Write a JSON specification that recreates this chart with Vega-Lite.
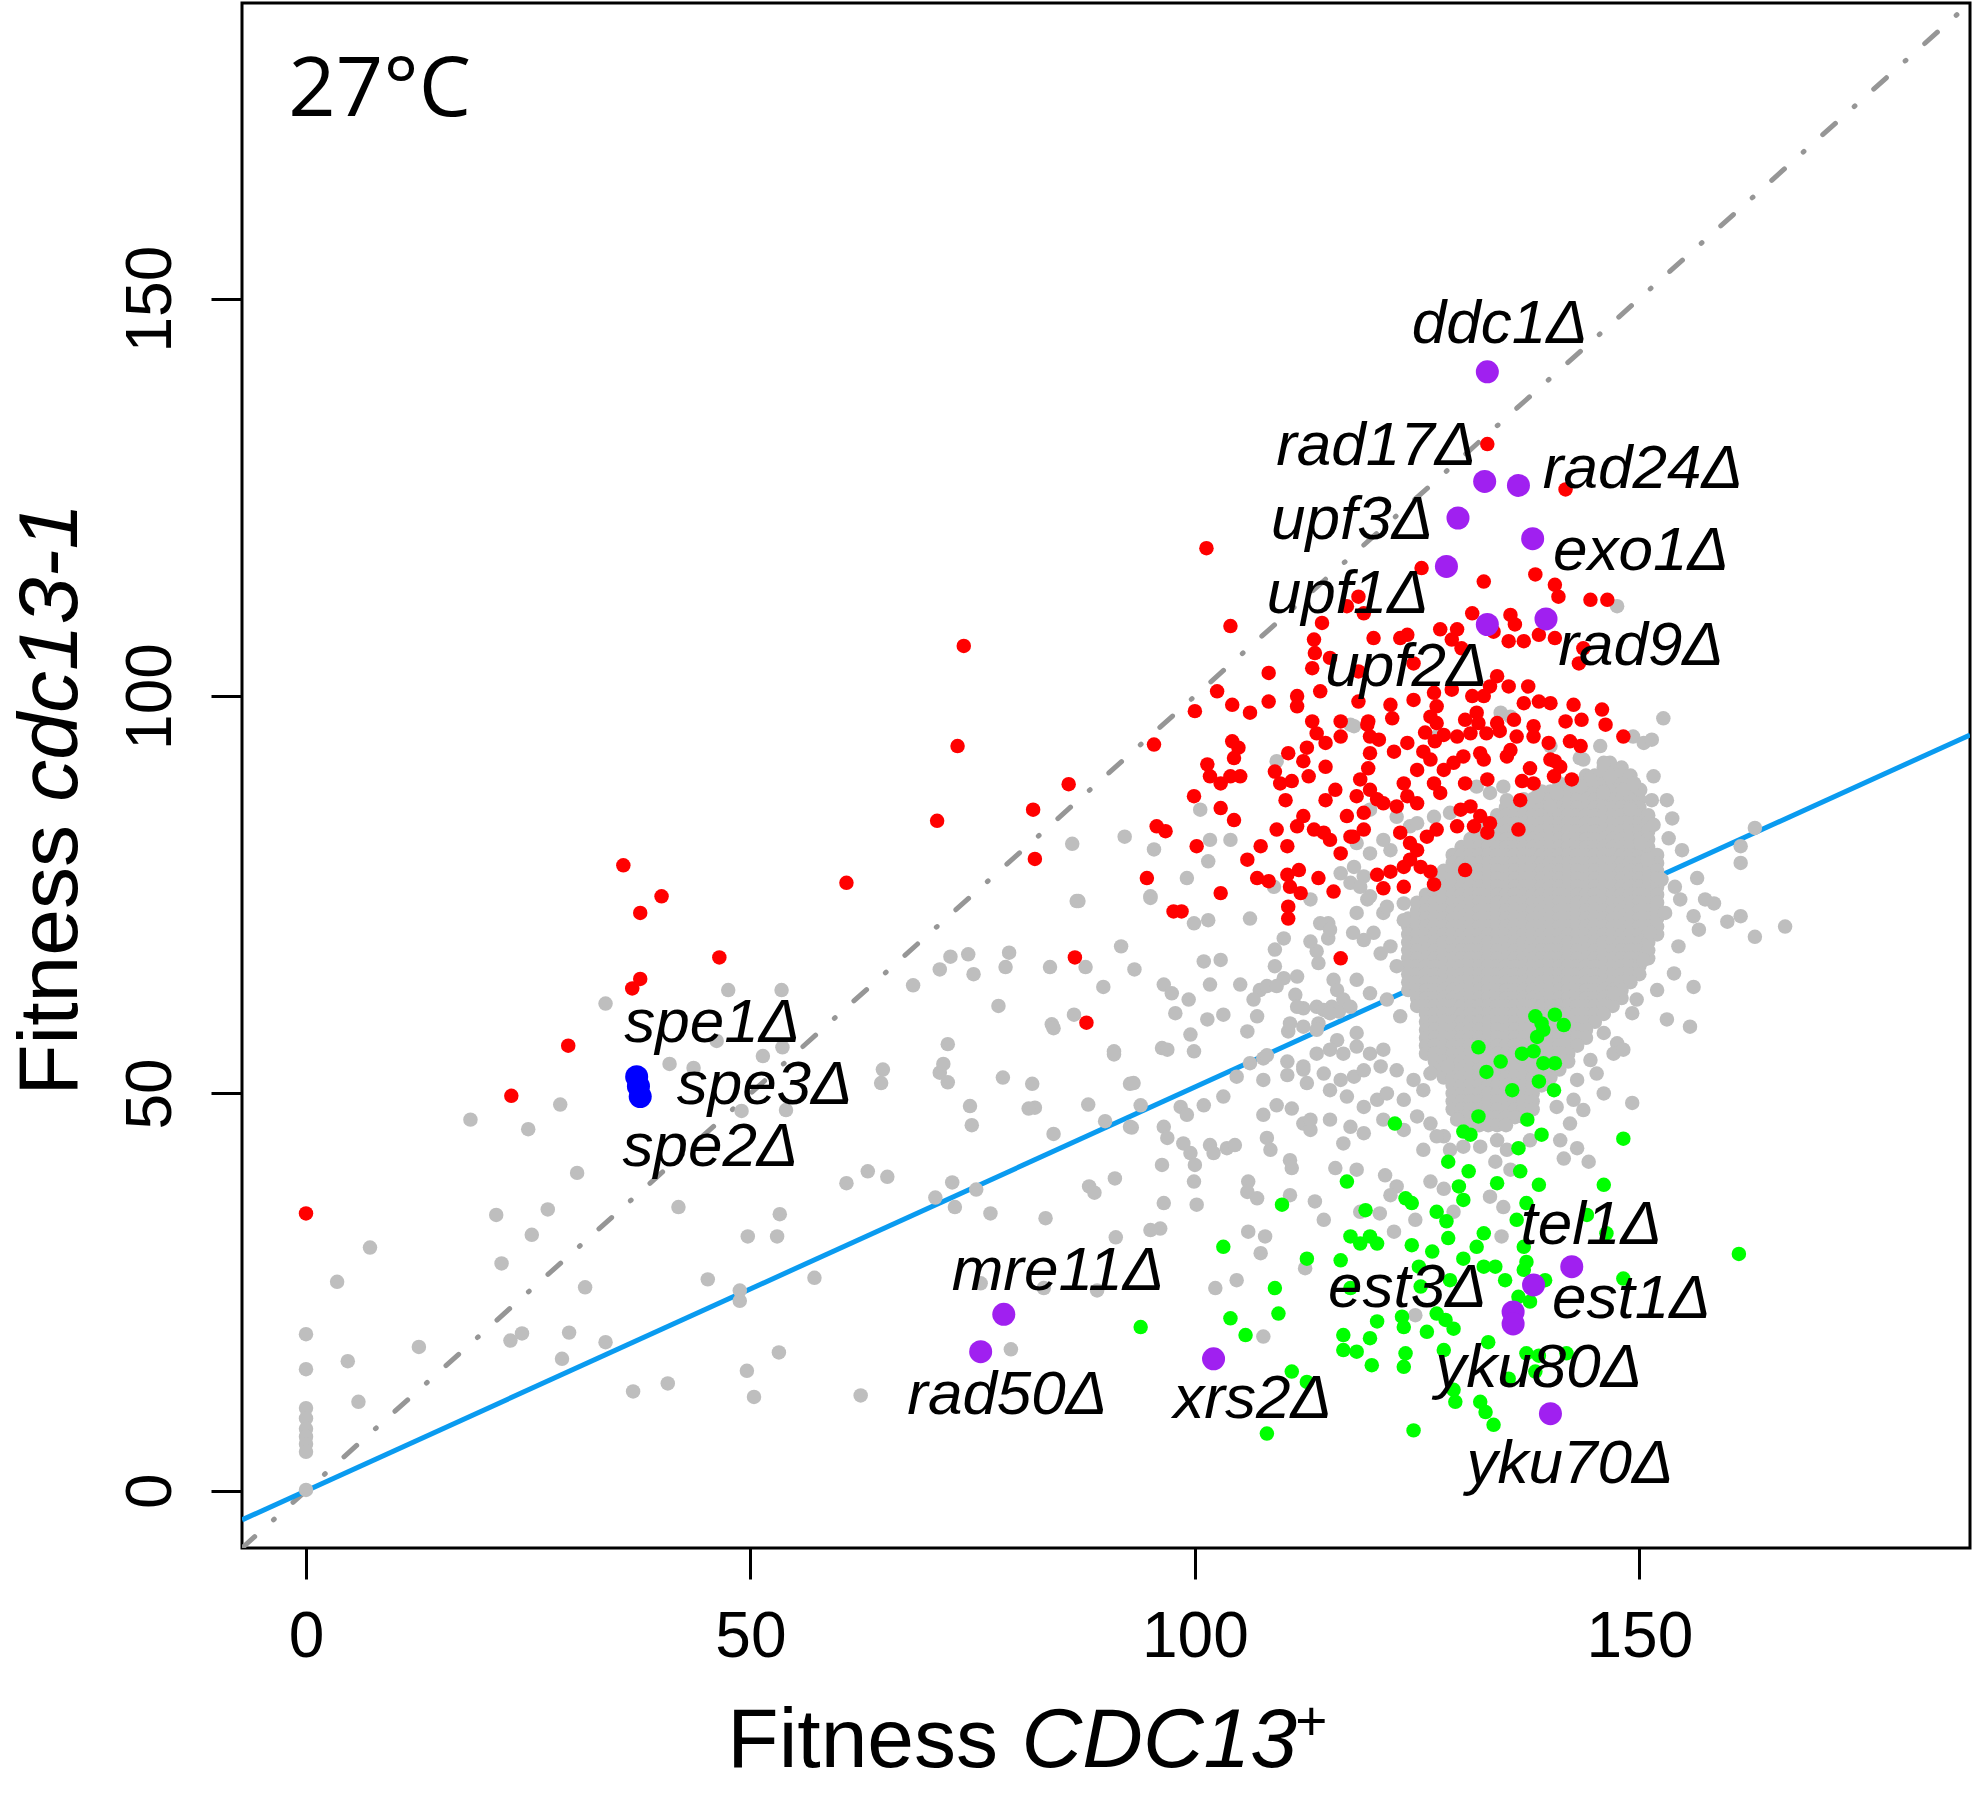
{
  "$schema": "https://vega.github.io/schema/vega-lite/v6.json",
  "autosize": {"type": "none"},
  "padding": {"left": 242, "top": 3, "right": 3, "bottom": 245},
  "width": 1728,
  "height": 1545,
  "config": {"view": {"stroke": "#000000", "strokeWidth": 3}},
  "datasets": {
    "diag": [{"x": -7.2, "y": -7.2}, {"x": 187.2, "y": 187.2}],
    "fit": [{"x": -7.2, "y": -3.66}, {"x": 187.2, "y": 95.1}],
    "grey": [
      {"x":146,"y":91},{"x":147,"y":91},{"x":148,"y":91},
      {"x":144,"y":90},{"x":145,"y":90},{"x":146,"y":90},{"x":147,"y":90},{"x":148,"y":90},{"x":149,"y":90},
      {"x":141,"y":89},{"x":142,"y":89},{"x":143,"y":89},{"x":144,"y":89},{"x":145,"y":89},{"x":146,"y":89},{"x":147,"y":89},{"x":148,"y":89},
      {"x":139,"y":88},{"x":140,"y":88},{"x":141,"y":88},{"x":142,"y":88},{"x":143,"y":88},{"x":144,"y":88},{"x":145,"y":88},{"x":146,"y":88},{"x":147,"y":88},{"x":148,"y":88},{"x":149,"y":88},
      {"x":137,"y":87},{"x":138,"y":87},{"x":139,"y":87},{"x":140,"y":87},{"x":141,"y":87},{"x":142,"y":87},{"x":143,"y":87},{"x":144,"y":87},{"x":145,"y":87},{"x":146,"y":87},{"x":147,"y":87},{"x":148,"y":87},{"x":149,"y":87},{"x":150,"y":87},
      {"x":135,"y":86},{"x":136,"y":86},{"x":137,"y":86},{"x":138,"y":86},{"x":139,"y":86},{"x":140,"y":86},{"x":141,"y":86},{"x":142,"y":86},{"x":143,"y":86},{"x":144,"y":86},{"x":145,"y":86},{"x":146,"y":86},{"x":147,"y":86},{"x":148,"y":86},{"x":149,"y":86},{"x":150,"y":86},
      {"x":134,"y":85},{"x":135,"y":85},{"x":136,"y":85},{"x":137,"y":85},{"x":138,"y":85},{"x":139,"y":85},{"x":140,"y":85},{"x":141,"y":85},{"x":142,"y":85},{"x":143,"y":85},{"x":144,"y":85},{"x":145,"y":85},{"x":146,"y":85},{"x":147,"y":85},{"x":148,"y":85},{"x":149,"y":85},{"x":150,"y":85},{"x":151,"y":85},
      {"x":133,"y":84},{"x":134,"y":84},{"x":135,"y":84},{"x":136,"y":84},{"x":137,"y":84},{"x":138,"y":84},{"x":139,"y":84},{"x":140,"y":84},{"x":141,"y":84},{"x":142,"y":84},{"x":143,"y":84},{"x":144,"y":84},{"x":145,"y":84},{"x":146,"y":84},{"x":147,"y":84},{"x":148,"y":84},{"x":149,"y":84},{"x":150,"y":84},{"x":151,"y":84},
      {"x":132,"y":83},{"x":133,"y":83},{"x":134,"y":83},{"x":135,"y":83},{"x":136,"y":83},{"x":137,"y":83},{"x":138,"y":83},{"x":139,"y":83},{"x":140,"y":83},{"x":141,"y":83},{"x":142,"y":83},{"x":143,"y":83},{"x":144,"y":83},{"x":145,"y":83},{"x":146,"y":83},{"x":147,"y":83},{"x":148,"y":83},{"x":149,"y":83},{"x":150,"y":83},{"x":151,"y":83},
      {"x":131,"y":82},{"x":132,"y":82},{"x":133,"y":82},{"x":134,"y":82},{"x":135,"y":82},{"x":136,"y":82},{"x":137,"y":82},{"x":138,"y":82},{"x":139,"y":82},{"x":140,"y":82},{"x":141,"y":82},{"x":142,"y":82},{"x":143,"y":82},{"x":144,"y":82},{"x":145,"y":82},{"x":146,"y":82},{"x":147,"y":82},{"x":148,"y":82},{"x":149,"y":82},{"x":150,"y":82},{"x":151,"y":82},
      {"x":130,"y":81},{"x":131,"y":81},{"x":132,"y":81},{"x":133,"y":81},{"x":134,"y":81},{"x":135,"y":81},{"x":136,"y":81},{"x":137,"y":81},{"x":138,"y":81},{"x":139,"y":81},{"x":140,"y":81},{"x":141,"y":81},{"x":142,"y":81},{"x":143,"y":81},{"x":144,"y":81},{"x":145,"y":81},{"x":146,"y":81},{"x":147,"y":81},{"x":148,"y":81},{"x":149,"y":81},{"x":150,"y":81},{"x":151,"y":81},
      {"x":129,"y":80},{"x":130,"y":80},{"x":131,"y":80},{"x":132,"y":80},{"x":133,"y":80},{"x":134,"y":80},{"x":135,"y":80},{"x":136,"y":80},{"x":137,"y":80},{"x":138,"y":80},{"x":139,"y":80},{"x":140,"y":80},{"x":141,"y":80},{"x":142,"y":80},{"x":143,"y":80},{"x":144,"y":80},{"x":145,"y":80},{"x":146,"y":80},{"x":147,"y":80},{"x":148,"y":80},{"x":149,"y":80},{"x":150,"y":80},{"x":151,"y":80},{"x":152,"y":80},
      {"x":129,"y":79},{"x":130,"y":79},{"x":131,"y":79},{"x":132,"y":79},{"x":133,"y":79},{"x":134,"y":79},{"x":135,"y":79},{"x":136,"y":79},{"x":137,"y":79},{"x":138,"y":79},{"x":139,"y":79},{"x":140,"y":79},{"x":141,"y":79},{"x":142,"y":79},{"x":143,"y":79},{"x":144,"y":79},{"x":145,"y":79},{"x":146,"y":79},{"x":147,"y":79},{"x":148,"y":79},{"x":149,"y":79},{"x":150,"y":79},{"x":151,"y":79},{"x":152,"y":79},
      {"x":128,"y":78},{"x":129,"y":78},{"x":130,"y":78},{"x":131,"y":78},{"x":132,"y":78},{"x":133,"y":78},{"x":134,"y":78},{"x":135,"y":78},{"x":136,"y":78},{"x":137,"y":78},{"x":138,"y":78},{"x":139,"y":78},{"x":140,"y":78},{"x":141,"y":78},{"x":142,"y":78},{"x":143,"y":78},{"x":144,"y":78},{"x":145,"y":78},{"x":146,"y":78},{"x":147,"y":78},{"x":148,"y":78},{"x":149,"y":78},{"x":150,"y":78},{"x":151,"y":78},{"x":152,"y":78},
      {"x":127,"y":77},{"x":128,"y":77},{"x":129,"y":77},{"x":130,"y":77},{"x":131,"y":77},{"x":132,"y":77},{"x":133,"y":77},{"x":134,"y":77},{"x":135,"y":77},{"x":136,"y":77},{"x":137,"y":77},{"x":138,"y":77},{"x":139,"y":77},{"x":140,"y":77},{"x":141,"y":77},{"x":142,"y":77},{"x":143,"y":77},{"x":144,"y":77},{"x":145,"y":77},{"x":146,"y":77},{"x":147,"y":77},{"x":148,"y":77},{"x":149,"y":77},{"x":150,"y":77},{"x":151,"y":77},{"x":152,"y":77},
      {"x":127,"y":76},{"x":128,"y":76},{"x":129,"y":76},{"x":130,"y":76},{"x":131,"y":76},{"x":132,"y":76},{"x":133,"y":76},{"x":134,"y":76},{"x":135,"y":76},{"x":136,"y":76},{"x":137,"y":76},{"x":138,"y":76},{"x":139,"y":76},{"x":140,"y":76},{"x":141,"y":76},{"x":142,"y":76},{"x":143,"y":76},{"x":144,"y":76},{"x":145,"y":76},{"x":146,"y":76},{"x":147,"y":76},{"x":148,"y":76},{"x":149,"y":76},{"x":150,"y":76},{"x":151,"y":76},{"x":152,"y":76},
      {"x":126,"y":75},{"x":127,"y":75},{"x":128,"y":75},{"x":129,"y":75},{"x":130,"y":75},{"x":131,"y":75},{"x":132,"y":75},{"x":133,"y":75},{"x":134,"y":75},{"x":135,"y":75},{"x":136,"y":75},{"x":137,"y":75},{"x":138,"y":75},{"x":139,"y":75},{"x":140,"y":75},{"x":141,"y":75},{"x":142,"y":75},{"x":143,"y":75},{"x":144,"y":75},{"x":145,"y":75},{"x":146,"y":75},{"x":147,"y":75},{"x":148,"y":75},{"x":149,"y":75},{"x":150,"y":75},{"x":151,"y":75},{"x":152,"y":75},
      {"x":125,"y":74},{"x":126,"y":74},{"x":127,"y":74},{"x":128,"y":74},{"x":129,"y":74},{"x":130,"y":74},{"x":131,"y":74},{"x":132,"y":74},{"x":133,"y":74},{"x":134,"y":74},{"x":135,"y":74},{"x":136,"y":74},{"x":137,"y":74},{"x":138,"y":74},{"x":139,"y":74},{"x":140,"y":74},{"x":141,"y":74},{"x":142,"y":74},{"x":143,"y":74},{"x":144,"y":74},{"x":145,"y":74},{"x":146,"y":74},{"x":147,"y":74},{"x":148,"y":74},{"x":149,"y":74},{"x":150,"y":74},{"x":151,"y":74},{"x":152,"y":74},
      {"x":125,"y":73},{"x":126,"y":73},{"x":127,"y":73},{"x":128,"y":73},{"x":129,"y":73},{"x":130,"y":73},{"x":131,"y":73},{"x":132,"y":73},{"x":133,"y":73},{"x":134,"y":73},{"x":135,"y":73},{"x":136,"y":73},{"x":137,"y":73},{"x":138,"y":73},{"x":139,"y":73},{"x":140,"y":73},{"x":141,"y":73},{"x":142,"y":73},{"x":143,"y":73},{"x":144,"y":73},{"x":145,"y":73},{"x":146,"y":73},{"x":147,"y":73},{"x":148,"y":73},{"x":149,"y":73},{"x":150,"y":73},{"x":151,"y":73},{"x":152,"y":73},
      {"x":124,"y":72},{"x":125,"y":72},{"x":126,"y":72},{"x":127,"y":72},{"x":128,"y":72},{"x":129,"y":72},{"x":130,"y":72},{"x":131,"y":72},{"x":132,"y":72},{"x":133,"y":72},{"x":134,"y":72},{"x":135,"y":72},{"x":136,"y":72},{"x":137,"y":72},{"x":138,"y":72},{"x":139,"y":72},{"x":140,"y":72},{"x":141,"y":72},{"x":142,"y":72},{"x":143,"y":72},{"x":144,"y":72},{"x":145,"y":72},{"x":146,"y":72},{"x":147,"y":72},{"x":148,"y":72},{"x":149,"y":72},{"x":150,"y":72},{"x":151,"y":72},{"x":152,"y":72},
      {"x":124,"y":71},{"x":125,"y":71},{"x":126,"y":71},{"x":127,"y":71},{"x":128,"y":71},{"x":129,"y":71},{"x":130,"y":71},{"x":131,"y":71},{"x":132,"y":71},{"x":133,"y":71},{"x":134,"y":71},{"x":135,"y":71},{"x":136,"y":71},{"x":137,"y":71},{"x":138,"y":71},{"x":139,"y":71},{"x":140,"y":71},{"x":141,"y":71},{"x":142,"y":71},{"x":143,"y":71},{"x":144,"y":71},{"x":145,"y":71},{"x":146,"y":71},{"x":147,"y":71},{"x":148,"y":71},{"x":149,"y":71},{"x":150,"y":71},{"x":151,"y":71},{"x":152,"y":71},
      {"x":124,"y":70},{"x":125,"y":70},{"x":126,"y":70},{"x":127,"y":70},{"x":128,"y":70},{"x":129,"y":70},{"x":130,"y":70},{"x":131,"y":70},{"x":132,"y":70},{"x":133,"y":70},{"x":134,"y":70},{"x":135,"y":70},{"x":136,"y":70},{"x":137,"y":70},{"x":138,"y":70},{"x":139,"y":70},{"x":140,"y":70},{"x":141,"y":70},{"x":142,"y":70},{"x":143,"y":70},{"x":144,"y":70},{"x":145,"y":70},{"x":146,"y":70},{"x":147,"y":70},{"x":148,"y":70},{"x":149,"y":70},{"x":150,"y":70},{"x":151,"y":70},{"x":152,"y":70},
      {"x":124,"y":69},{"x":125,"y":69},{"x":126,"y":69},{"x":127,"y":69},{"x":128,"y":69},{"x":129,"y":69},{"x":130,"y":69},{"x":131,"y":69},{"x":132,"y":69},{"x":133,"y":69},{"x":134,"y":69},{"x":135,"y":69},{"x":136,"y":69},{"x":137,"y":69},{"x":138,"y":69},{"x":139,"y":69},{"x":140,"y":69},{"x":141,"y":69},{"x":142,"y":69},{"x":143,"y":69},{"x":144,"y":69},{"x":145,"y":69},{"x":146,"y":69},{"x":147,"y":69},{"x":148,"y":69},{"x":149,"y":69},{"x":150,"y":69},{"x":151,"y":69},
      {"x":124,"y":68},{"x":125,"y":68},{"x":126,"y":68},{"x":127,"y":68},{"x":128,"y":68},{"x":129,"y":68},{"x":130,"y":68},{"x":131,"y":68},{"x":132,"y":68},{"x":133,"y":68},{"x":134,"y":68},{"x":135,"y":68},{"x":136,"y":68},{"x":137,"y":68},{"x":138,"y":68},{"x":139,"y":68},{"x":140,"y":68},{"x":141,"y":68},{"x":142,"y":68},{"x":143,"y":68},{"x":144,"y":68},{"x":145,"y":68},{"x":146,"y":68},{"x":147,"y":68},{"x":148,"y":68},{"x":149,"y":68},{"x":150,"y":68},{"x":151,"y":68},
      {"x":124,"y":67},{"x":125,"y":67},{"x":126,"y":67},{"x":127,"y":67},{"x":128,"y":67},{"x":129,"y":67},{"x":130,"y":67},{"x":131,"y":67},{"x":132,"y":67},{"x":133,"y":67},{"x":134,"y":67},{"x":135,"y":67},{"x":136,"y":67},{"x":137,"y":67},{"x":138,"y":67},{"x":139,"y":67},{"x":140,"y":67},{"x":141,"y":67},{"x":142,"y":67},{"x":143,"y":67},{"x":144,"y":67},{"x":145,"y":67},{"x":146,"y":67},{"x":147,"y":67},{"x":148,"y":67},{"x":149,"y":67},{"x":150,"y":67},{"x":151,"y":67},
      {"x":124,"y":66},{"x":125,"y":66},{"x":126,"y":66},{"x":127,"y":66},{"x":128,"y":66},{"x":129,"y":66},{"x":130,"y":66},{"x":131,"y":66},{"x":132,"y":66},{"x":133,"y":66},{"x":134,"y":66},{"x":135,"y":66},{"x":136,"y":66},{"x":137,"y":66},{"x":138,"y":66},{"x":139,"y":66},{"x":140,"y":66},{"x":141,"y":66},{"x":142,"y":66},{"x":143,"y":66},{"x":144,"y":66},{"x":145,"y":66},{"x":146,"y":66},{"x":147,"y":66},{"x":148,"y":66},{"x":149,"y":66},{"x":150,"y":66},
      {"x":124,"y":65},{"x":125,"y":65},{"x":126,"y":65},{"x":127,"y":65},{"x":128,"y":65},{"x":129,"y":65},{"x":130,"y":65},{"x":131,"y":65},{"x":132,"y":65},{"x":133,"y":65},{"x":134,"y":65},{"x":135,"y":65},{"x":136,"y":65},{"x":137,"y":65},{"x":138,"y":65},{"x":139,"y":65},{"x":140,"y":65},{"x":141,"y":65},{"x":142,"y":65},{"x":143,"y":65},{"x":144,"y":65},{"x":145,"y":65},{"x":146,"y":65},{"x":147,"y":65},{"x":148,"y":65},{"x":149,"y":65},{"x":150,"y":65},
      {"x":124,"y":64},{"x":125,"y":64},{"x":126,"y":64},{"x":127,"y":64},{"x":128,"y":64},{"x":129,"y":64},{"x":130,"y":64},{"x":131,"y":64},{"x":132,"y":64},{"x":133,"y":64},{"x":134,"y":64},{"x":135,"y":64},{"x":136,"y":64},{"x":137,"y":64},{"x":138,"y":64},{"x":139,"y":64},{"x":140,"y":64},{"x":141,"y":64},{"x":142,"y":64},{"x":143,"y":64},{"x":144,"y":64},{"x":145,"y":64},{"x":146,"y":64},{"x":147,"y":64},{"x":148,"y":64},{"x":149,"y":64},
      {"x":124,"y":63},{"x":125,"y":63},{"x":126,"y":63},{"x":127,"y":63},{"x":128,"y":63},{"x":129,"y":63},{"x":130,"y":63},{"x":131,"y":63},{"x":132,"y":63},{"x":133,"y":63},{"x":134,"y":63},{"x":135,"y":63},{"x":136,"y":63},{"x":137,"y":63},{"x":138,"y":63},{"x":139,"y":63},{"x":140,"y":63},{"x":141,"y":63},{"x":142,"y":63},{"x":143,"y":63},{"x":144,"y":63},{"x":145,"y":63},{"x":146,"y":63},{"x":147,"y":63},{"x":148,"y":63},
      {"x":125,"y":62},{"x":126,"y":62},{"x":127,"y":62},{"x":128,"y":62},{"x":129,"y":62},{"x":130,"y":62},{"x":131,"y":62},{"x":132,"y":62},{"x":133,"y":62},{"x":134,"y":62},{"x":135,"y":62},{"x":136,"y":62},{"x":137,"y":62},{"x":138,"y":62},{"x":139,"y":62},{"x":140,"y":62},{"x":141,"y":62},{"x":142,"y":62},{"x":143,"y":62},{"x":144,"y":62},{"x":145,"y":62},{"x":146,"y":62},{"x":147,"y":62},{"x":148,"y":62},
      {"x":125,"y":61},{"x":126,"y":61},{"x":127,"y":61},{"x":128,"y":61},{"x":129,"y":61},{"x":130,"y":61},{"x":131,"y":61},{"x":132,"y":61},{"x":133,"y":61},{"x":134,"y":61},{"x":135,"y":61},{"x":136,"y":61},{"x":137,"y":61},{"x":138,"y":61},{"x":139,"y":61},{"x":140,"y":61},{"x":141,"y":61},{"x":142,"y":61},{"x":143,"y":61},{"x":144,"y":61},{"x":145,"y":61},{"x":146,"y":61},{"x":147,"y":61},
      {"x":126,"y":60},{"x":127,"y":60},{"x":128,"y":60},{"x":129,"y":60},{"x":130,"y":60},{"x":131,"y":60},{"x":132,"y":60},{"x":133,"y":60},{"x":134,"y":60},{"x":135,"y":60},{"x":136,"y":60},{"x":137,"y":60},{"x":138,"y":60},{"x":139,"y":60},{"x":140,"y":60},{"x":141,"y":60},{"x":142,"y":60},{"x":143,"y":60},{"x":144,"y":60},{"x":145,"y":60},{"x":146,"y":60},
      {"x":126,"y":59},{"x":127,"y":59},{"x":128,"y":59},{"x":129,"y":59},{"x":130,"y":59},{"x":131,"y":59},{"x":132,"y":59},{"x":133,"y":59},{"x":134,"y":59},{"x":135,"y":59},{"x":136,"y":59},{"x":137,"y":59},{"x":138,"y":59},{"x":139,"y":59},{"x":140,"y":59},{"x":141,"y":59},{"x":142,"y":59},{"x":143,"y":59},{"x":144,"y":59},{"x":145,"y":59},
      {"x":126,"y":58},{"x":127,"y":58},{"x":128,"y":58},{"x":129,"y":58},{"x":130,"y":58},{"x":131,"y":58},{"x":132,"y":58},{"x":133,"y":58},{"x":134,"y":58},{"x":135,"y":58},{"x":136,"y":58},{"x":137,"y":58},{"x":138,"y":58},{"x":139,"y":58},{"x":140,"y":58},{"x":141,"y":58},{"x":142,"y":58},{"x":143,"y":58},{"x":144,"y":58},
      {"x":126,"y":57},{"x":127,"y":57},{"x":128,"y":57},{"x":129,"y":57},{"x":130,"y":57},{"x":131,"y":57},{"x":132,"y":57},{"x":133,"y":57},{"x":134,"y":57},{"x":135,"y":57},{"x":136,"y":57},{"x":137,"y":57},{"x":138,"y":57},{"x":139,"y":57},{"x":140,"y":57},{"x":141,"y":57},{"x":142,"y":57},{"x":143,"y":57},{"x":144,"y":57},
      {"x":126,"y":56},{"x":127,"y":56},{"x":128,"y":56},{"x":129,"y":56},{"x":130,"y":56},{"x":131,"y":56},{"x":132,"y":56},{"x":133,"y":56},{"x":134,"y":56},{"x":135,"y":56},{"x":136,"y":56},{"x":137,"y":56},{"x":138,"y":56},{"x":139,"y":56},{"x":140,"y":56},{"x":141,"y":56},{"x":142,"y":56},{"x":143,"y":56},
      {"x":126,"y":55},{"x":127,"y":55},{"x":128,"y":55},{"x":129,"y":55},{"x":130,"y":55},{"x":131,"y":55},{"x":132,"y":55},{"x":133,"y":55},{"x":134,"y":55},{"x":135,"y":55},{"x":136,"y":55},{"x":137,"y":55},{"x":138,"y":55},{"x":139,"y":55},{"x":140,"y":55},{"x":141,"y":55},{"x":142,"y":55},
      {"x":127,"y":54},{"x":128,"y":54},{"x":129,"y":54},{"x":130,"y":54},{"x":131,"y":54},{"x":132,"y":54},{"x":133,"y":54},{"x":134,"y":54},{"x":135,"y":54},{"x":136,"y":54},{"x":137,"y":54},{"x":138,"y":54},{"x":139,"y":54},{"x":140,"y":54},{"x":141,"y":54},{"x":142,"y":54},
      {"x":127,"y":53},{"x":128,"y":53},{"x":129,"y":53},{"x":130,"y":53},{"x":131,"y":53},{"x":132,"y":53},{"x":133,"y":53},{"x":134,"y":53},{"x":135,"y":53},{"x":136,"y":53},{"x":137,"y":53},{"x":138,"y":53},{"x":139,"y":53},{"x":140,"y":53},{"x":141,"y":53},
      {"x":128,"y":52},{"x":129,"y":52},{"x":130,"y":52},{"x":131,"y":52},{"x":132,"y":52},{"x":133,"y":52},{"x":134,"y":52},{"x":135,"y":52},{"x":136,"y":52},{"x":137,"y":52},{"x":138,"y":52},{"x":139,"y":52},{"x":140,"y":52},
      {"x":129,"y":51},{"x":130,"y":51},{"x":131,"y":51},{"x":132,"y":51},{"x":133,"y":51},{"x":134,"y":51},{"x":135,"y":51},{"x":136,"y":51},{"x":137,"y":51},{"x":138,"y":51},{"x":139,"y":51},
      {"x":129,"y":50},{"x":130,"y":50},{"x":131,"y":50},{"x":132,"y":50},{"x":133,"y":50},{"x":134,"y":50},{"x":135,"y":50},{"x":136,"y":50},{"x":137,"y":50},{"x":138,"y":50},
      {"x":129,"y":49},{"x":130,"y":49},{"x":131,"y":49},{"x":132,"y":49},{"x":133,"y":49},{"x":134,"y":49},{"x":135,"y":49},{"x":136,"y":49},{"x":137,"y":49},{"x":138,"y":49},
      {"x":129,"y":48},{"x":130,"y":48},{"x":131,"y":48},{"x":132,"y":48},{"x":133,"y":48},{"x":134,"y":48},{"x":135,"y":48},{"x":136,"y":48},{"x":137,"y":48},{"x":138,"y":48},
      {"x":130,"y":47},{"x":131,"y":47},{"x":132,"y":47},{"x":133,"y":47},{"x":134,"y":47},{"x":135,"y":47},{"x":136,"y":47},{"x":137,"y":47},
      {"x":131,"y":46},{"x":132,"y":46},{"x":133,"y":46},{"x":134,"y":46},{"x":135,"y":46},
      {"x":0,"y":19.7},{"x":0,"y":15.3},{"x":0,"y":10.4},{"x":0,"y":9.1},{"x":0,"y":7.8},{"x":0,"y":6.8},{"x":0,"y":5.9},{"x":0,"y":4.9},{"x":0,"y":0.1},
      {"x":7.2,"y":30.6},{"x":3.5,"y":26.3},{"x":4.7,"y":16.3},{"x":5.9,"y":11.2},{"x":12.7,"y":18.1},{"x":18.5,"y":46.7},{"x":21.4,"y":34.7},{"x":22,"y":28.6},{"x":24.3,"y":19.8},{"x":23,"y":18.9},{"x":25,"y":45.5},{"x":25.4,"y":32.2},{"x":27.2,"y":35.4},{"x":28.6,"y":48.6},{"x":29.6,"y":19.9},{"x":30.5,"y":40},{"x":31.4,"y":25.6},{"x":28.8,"y":16.6},{"x":33.7,"y":18.7},{"x":33.7,"y":61.3},{"x":36.8,"y":12.5},{"x":40.7,"y":13.5},{"x":41.9,"y":35.7},{"x":45.2,"y":26.6},{"x":47.5,"y":63},{"x":40.9,"y":53.7},{"x":43.6,"y":53.2},{"x":48.8,"y":23.9},{"x":48.8,"y":25.2},{"x":49.7,"y":32},{"x":49.6,"y":15.1},{"x":50.4,"y":11.8},{"x":53,"y":32},{"x":53.3,"y":34.8},{"x":53.5,"y":63},{"x":53.6,"y":55.8},{"x":51.4,"y":54.7},{"x":54,"y":47.9},{"x":53.2,"y":17.4},{"x":57.2,"y":26.8},{"x":60.8,"y":38.7},{"x":63.2,"y":40.2},{"x":65.4,"y":39.5},{"x":62.4,"y":12},{"x":64.7,"y":51.3},{"x":64.9,"y":53},{"x":68.3,"y":63.6},{"x":71.3,"y":65.6},{"x":72.5,"y":67.2},{"x":74.5,"y":67.5},{"x":75.1,"y":65},{"x":71.3,"y":52.6},{"x":71.7,"y":53.7},{"x":72.2,"y":51.4},{"x":72.2,"y":56.2},{"x":72.7,"y":38.8},{"x":70.8,"y":36.9},{"x":73,"y":35.7},{"x":75.4,"y":37.9},{"x":77,"y":34.9},{"x":74.7,"y":48.4},{"x":74.9,"y":46},{"x":78.4,"y":52},{"x":79.1,"y":67.7},{"x":78.7,"y":65.9},{"x":77.9,"y":61},{"x":79.3,"y":17.8},{"x":81.7,"y":51.2},{"x":82,"y":48.2},{"x":81.3,"y":48.1},{"x":84.1,"y":44.9},{"x":83.2,"y":34.3},{"x":83.7,"y":65.9},{"x":83.9,"y":58.7},{"x":84.1,"y":58.2},{"x":86.4,"y":59.9},{"x":86.2,"y":81.4},{"x":86.9,"y":74.2},{"x":86.7,"y":74.2},{"x":87.7,"y":65.9},{"x":88.1,"y":38.3},{"x":88.7,"y":37.5},{"x":88,"y":48.6},{"x":89.7,"y":63.4},{"x":89.9,"y":46.5},{"x":91,"y":39.3},{"x":90.9,"y":55.3},{"x":90.9,"y":54.9},{"x":91.7,"y":68.5},{"x":92.1,"y":82.3},{"x":92.7,"y":51.2},{"x":92.9,"y":45.7},{"x":93.2,"y":65.6},{"x":91.1,"y":31.9},{"x":89,"y":25.2},{"x":83,"y":25.5},{"x":75.9,"y":26.1},{"x":46.2,"y":56.6},{"x":49,"y":47.8},{"x":95,"y":74.6},
      {"x":109,"y":68.1},{"x":109,"y":66},{"x":110,"y":64.5},{"x":107.3,"y":63},{"x":106.6,"y":61.8},{"x":108.1,"y":63.5},{"x":109.2,"y":63.5},{"x":111.3,"y":62.4},{"x":112.2,"y":60.7},{"x":113.7,"y":60.9},{"x":115.4,"y":60.9},{"x":116.2,"y":60.3},{"x":113.9,"y":58.8},{"x":110.5,"y":57.8},{"x":107,"y":59.7},{"x":105.9,"y":57.8},{"x":113.7,"y":67.9},{"x":113,"y":69.1},{"x":115,"y":71.4},{"x":115,"y":69.5},{"x":113.9,"y":66.4},{"x":110,"y":69.5},{"x":115.6,"y":64.3},{"x":116,"y":63},{"x":116.7,"y":61.8},{"x":117.5,"y":60.9},{"x":111.5,"y":60.9},{"x":114.5,"y":60.5},{"x":115.2,"y":60.1},{"x":110.7,"y":58.8},{"x":112.2,"y":58.4},{"x":113.7,"y":58},{"x":116,"y":56.7},{"x":111.5,"y":64.7},{"x":96.5,"y":63.7},{"x":97.4,"y":62.6},{"x":101.7,"y":63.7},{"x":105.1,"y":63.7},{"x":101,"y":66.6},{"x":102.9,"y":66.8},{"x":99.3,"y":61.8},{"x":97.8,"y":60.1},{"x":101.4,"y":59.3},{"x":103.2,"y":59.9},{"x":99.5,"y":57.4},
      {"x":109.2,"y":91.8},{"x":117.5,"y":96.4},{"x":100.6,"y":85.7},{"x":101.7,"y":81.9},{"x":104,"y":81.9},{"x":101.5,"y":79.2},{"x":99.1,"y":77.1},{"x":95.4,"y":80.7},{"x":95,"y":74.8},{"x":99.9,"y":71.4},{"x":101.5,"y":71.8},{"x":106.2,"y":72},{"x":108.9,"y":76},{"x":113,"y":74.4},{"x":114.1,"y":71.4},{"x":115.2,"y":70.6},{"x":116.4,"y":77.7},{"x":117.5,"y":76.5},{"x":119,"y":77.3},{"x":119.4,"y":74.4},{"x":121.2,"y":72.7},{"x":117.8,"y":70.2},{"x":127.2,"y":94.9},{"x":135.5,"y":97.4},{"x":145.6,"y":93.7},{"x":143.3,"y":92.2},{"x":146.7,"y":91.6},{"x":149.3,"y":94.9},{"x":150.5,"y":94.1},{"x":148.2,"y":89},{"x":150.1,"y":88.2},{"x":149,"y":85.7},{"x":147.5,"y":111.3},
      {"x":152.7,"y":97.2},{"x":151.4,"y":94.5},{"x":151.6,"y":89.9},{"x":149.4,"y":89},{"x":151.4,"y":86.9},{"x":153.1,"y":86.9},{"x":153.7,"y":84.6},{"x":151.6,"y":83.8},{"x":153.3,"y":82.1},{"x":154.8,"y":80.6},{"x":156.5,"y":77.1},{"x":158.4,"y":73.9},{"x":157.4,"y":74.4},{"x":159.9,"y":71.6},{"x":161.4,"y":72.3},{"x":163,"y":69.7},{"x":166.4,"y":71},{"x":156.1,"y":72.3},{"x":156.7,"y":70.6},{"x":154,"y":76},{"x":152.9,"y":72.7},{"x":154.4,"y":68.5},{"x":153.9,"y":65.1},{"x":156.1,"y":63.4},{"x":153.1,"y":59.3},{"x":155.7,"y":58.4},{"x":149.2,"y":60.1},{"x":149.2,"y":48.8},{"x":163,"y":83.4},{"x":161.4,"y":81.1},{"x":161.4,"y":79},{"x":152.5,"y":76.9},{"x":154.6,"y":74.4},{"x":150.9,"y":79.4},{"x":150.1,"y":81.5},{"x":151.2,"y":70.2},{"x":150.5,"y":66.8},{"x":152,"y":63},{"x":149.7,"y":61.8},{"x":147.1,"y":62.6},{"x":146,"y":57.6},{"x":147.5,"y":56.3},{"x":123.1,"y":59.7},{"x":121.6,"y":61.8},{"x":119.7,"y":62.6},{"x":118.2,"y":64.3},{"x":118.2,"y":57.6},{"x":122.7,"y":66},{"x":120.9,"y":67.6},{"x":119,"y":69.3},{"x":122,"y":68.5},{"x":120.1,"y":70.2},{"x":123.5,"y":71.8},{"x":118.2,"y":72.7},{"x":121.6,"y":73.5},{"x":119.7,"y":74.8},{"x":118.6,"y":76},{"x":123.5,"y":73.9},{"x":117.9,"y":78.5},{"x":119.7,"y":80.2},{"x":122,"y":80.6},{"x":118.2,"y":81.5},{"x":121.2,"y":81.9},{"x":124.2,"y":83.6},{"x":122.7,"y":84.8},{"x":119.7,"y":85.7},{"x":134.4,"y":97.9},{"x":140,"y":93.7},{"x":143.7,"y":92},{"x":146,"y":91.6},{"x":146.7,"y":89.9},{"x":144.5,"y":89.5},{"x":148.2,"y":88.2},{"x":146,"y":87.8},{"x":143.4,"y":88.6},{"x":140.7,"y":87.8},{"x":138.5,"y":87.4},{"x":140,"y":86.1},{"x":134.7,"y":88.6},{"x":135.1,"y":86.9},{"x":133.2,"y":87.8},{"x":131.7,"y":88.6},{"x":128.7,"y":85.3},{"x":126.9,"y":84.8},{"x":125,"y":84},{"x":117.9,"y":96.2},
      {"x":96.3,"y":55.7},{"x":96.9,"y":55.5},{"x":99.9,"y":55.3},{"x":93.1,"y":51.3},{"x":93.9,"y":48.5},{"x":92.7,"y":45.8},{"x":96.5,"y":45.8},{"x":96.9,"y":44.4},{"x":98.4,"y":48.3},{"x":99.1,"y":47.3},{"x":101,"y":48.5},{"x":103.2,"y":49.6},{"x":104.7,"y":52.1},{"x":106.2,"y":53.8},{"x":107.7,"y":54.4},{"x":108.1,"y":54.8},{"x":110.4,"y":54},{"x":112.2,"y":53},{"x":112.6,"y":51.3},{"x":110.4,"y":52.3},{"x":107.7,"y":51.7},{"x":109.2,"y":48.5},{"x":110.9,"y":48.1},{"x":107.7,"y":47.3},{"x":112.2,"y":46.2},{"x":113,"y":45.4},{"x":113,"y":46.7},{"x":108.1,"y":44.4},{"x":108.5,"y":42.9},{"x":98.7,"y":43.7},{"x":99.5,"y":42.5},{"x":100,"y":41},{"x":101.7,"y":43.5},{"x":102.1,"y":42.5},{"x":103.6,"y":43.1},{"x":104.5,"y":43.5},{"x":96.3,"y":41},{"x":99.9,"y":38.9},{"x":96.5,"y":36.2},{"x":100.2,"y":36},{"x":106,"y":38.9},{"x":105.9,"y":37.6},{"x":107,"y":36.8},{"x":110.7,"y":41.6},{"x":110.9,"y":40.6},{"x":110.7,"y":37.2},{"x":95,"y":32.8},{"x":96.1,"y":33},{"x":106,"y":32.6},{"x":107.9,"y":32},{"x":107.4,"y":29.9},{"x":104.7,"y":26.5},{"x":102.3,"y":25.5},{"x":112.4,"y":28},{"x":113.5,"y":36.4},{"x":114.5,"y":34.1},{"x":115.8,"y":40.6},{"x":116.7,"y":43.7},{"x":118.2,"y":40.4},{"x":121.4,"y":39.7},{"x":122.7,"y":38.3},{"x":122,"y":37.2},{"x":118.6,"y":35.1},{"x":120.8,"y":34.9},{"x":122.4,"y":32.6},{"x":124.8,"y":34.1},{"x":126.5,"y":38.9},{"x":128,"y":38},{"x":129.1,"y":35.1},{"x":133.2,"y":37},{"x":134.7,"y":35.7},{"x":134.5,"y":32},{"x":124.8,"y":22.1},{"x":107.7,"y":19.4},{"x":143,"y":43.1},{"x":144.3,"y":41.4},{"x":141.5,"y":41.8},{"x":133.8,"y":41.4},{"x":135.5,"y":40.4},
      {"x":113.7,"y":55},{"x":115.2,"y":55.5},{"x":116.7,"y":55},{"x":118.2,"y":55.9},{"x":119.7,"y":55},{"x":121.2,"y":55.5},{"x":112.2,"y":53.4},{"x":114.5,"y":52.5},{"x":116.4,"y":51.7},{"x":117.9,"y":52.1},{"x":119,"y":52.9},{"x":120.9,"y":53.4},{"x":122.7,"y":52.9},{"x":115.2,"y":50.4},{"x":117.1,"y":49.6},{"x":119,"y":48.3},{"x":120.5,"y":49.2},{"x":121.6,"y":50},{"x":123.5,"y":49.2},{"x":124.6,"y":51.7},{"x":125.7,"y":50.4},{"x":126.5,"y":52.5},{"x":128.4,"y":53.4},{"x":115.2,"y":46.7},{"x":117.5,"y":45.8},{"x":119,"y":45},{"x":121.2,"y":46.7},{"x":123.5,"y":45.4},{"x":125,"y":47.1},{"x":126.5,"y":46.2},{"x":128,"y":44.6},{"x":129.5,"y":46.7},{"x":125.7,"y":42.9},{"x":127.2,"y":44.6},{"x":128.7,"y":42.9},{"x":130.2,"y":43.3},{"x":132.1,"y":43.3},{"x":134,"y":44.1},{"x":135.1,"y":42.9},{"x":137.7,"y":44.1},{"x":141.1,"y":44.1},{"x":142.2,"y":46.2},{"x":140.7,"y":48.3},{"x":143,"y":51.7},{"x":145.2,"y":52.5},{"x":146,"y":50},{"x":144.5,"y":54.2},{"x":147.1,"y":55},{"x":148.2,"y":55.5},{"x":142.6,"y":49.2},{"x":143.7,"y":47.9}
    ],
    "red": [
      {"x":0,"y":34.9},{"x":23.1,"y":49.7},{"x":29.5,"y":56},{"x":35.7,"y":78.7},{"x":36.7,"y":63.2},{"x":37.6,"y":72.7},{"x":37.6,"y":64.4},{"x":40,"y":74.8},{"x":46.5,"y":67.1},{"x":60.8,"y":76.5},{"x":71,"y":84.3},{"x":73.3,"y":93.7},{"x":74,"y":106.3},{"x":81.8,"y":85.7},{"x":82,"y":79.5},{"x":85.8,"y":88.9},{"x":86.5,"y":67.1},{"x":87.8,"y":58.9},{"x":101.3,"y":118.6},{"x":132.9,"y":131.7},{"x":141.7,"y":126},{"x":116.4,"y":67},{"x":94.6,"y":77.1},
      {"x":125.5,"y":116.1},{"x":132.5,"y":114.4},{"x":138.3,"y":115.3},{"x":140.5,"y":114},{"x":140.9,"y":112.5},{"x":144.5,"y":112.1},{"x":146.4,"y":112.1},{"x":118.4,"y":112.5},{"x":117.1,"y":111.3},{"x":119,"y":110.4},{"x":104,"y":108.8},{"x":114.3,"y":109.2},{"x":131.2,"y":110.4},{"x":135.5,"y":110.2},{"x":136,"y":109},{"x":127.6,"y":108.4},{"x":129.5,"y":108.4},{"x":123.9,"y":107.7},{"x":123.1,"y":107.3},{"x":120.1,"y":107.3},{"x":128.9,"y":107.1},{"x":133.6,"y":108.1},{"x":135.3,"y":106.9},{"x":137,"y":106.9},{"x":138.7,"y":107.7},{"x":140.5,"y":107.3},{"x":143.7,"y":106},{"x":143.2,"y":104.1},{"x":113.4,"y":107.1},{"x":113.5,"y":105.4},{"x":115.2,"y":104.8},{"x":113.2,"y":103.5},{"x":108.3,"y":102.9},{"x":130,"y":106},{"x":124.6,"y":104.1},{"x":118.4,"y":103.1},{"x":134,"y":102.5},{"x":133.2,"y":101.2},{"x":135.3,"y":101.2},{"x":137.5,"y":101.2},{"x":132.5,"y":100},{"x":131.2,"y":100},{"x":128.9,"y":100.8},{"x":126.9,"y":100.4},{"x":124.6,"y":99.5},{"x":137,"y":99.1},{"x":138.7,"y":99.3},{"x":140,"y":99.1},{"x":142.6,"y":98.9},{"x":145.8,"y":98.3},{"x":146.2,"y":96.4},{"x":143.5,"y":97},{"x":141.7,"y":96.8},{"x":148.2,"y":94.9},{"x":142.2,"y":94.3},{"x":143.4,"y":93.7},{"x":139.8,"y":94.1},{"x":140.5,"y":91.8},{"x":138.1,"y":96.2},{"x":135.9,"y":97},{"x":134,"y":96.6},{"x":131.9,"y":96.6},{"x":131,"y":95.3},{"x":129.5,"y":94.9},{"x":128,"y":95.1},{"x":126.5,"y":97.4},{"x":127.2,"y":98.7},{"x":122,"y":98.9},{"x":122.2,"y":97.2},{"x":119.5,"y":96.8},{"x":118.4,"y":99.3},{"x":114.1,"y":100.6},{"x":111.5,"y":100},{"x":111.5,"y":98.7},{"x":108.3,"y":99.3},{"x":106.2,"y":97.9},{"x":104.2,"y":98.9},{"x":102.5,"y":100.6},{"x":100,"y":98.1},{"x":113.2,"y":96.8},{"x":116.4,"y":96.8},{"x":116.4,"y":94.9},{"x":113.7,"y":95.3},{"x":114.7,"y":94.1},{"x":112.6,"y":93.5},{"x":110.5,"y":92.8},{"x":104.2,"y":94.3},{"x":104.9,"y":93.5},{"x":104.4,"y":92.2},{"x":101.4,"y":91.4},{"x":95.4,"y":93.9},{"x":109,"y":90.5},{"x":112.2,"y":91.8},{"x":112.8,"y":89.9},{"x":114.7,"y":91.1},{"x":119.7,"y":92.8},{"x":120.7,"y":94.5},{"x":122.4,"y":93},{"x":123.9,"y":94.1},{"x":125.7,"y":93},{"x":126.5,"y":92},{"x":119.5,"y":90.9},{"x":118.6,"y":89.5},{"x":118.2,"y":87.4},{"x":115.8,"y":88.2},{"x":114.7,"y":86.9},{"x":110.2,"y":86.9},{"x":109.6,"y":89},{"x":110.9,"y":89.3},{"x":101.7,"y":89.9},{"x":102.9,"y":89},{"x":104,"y":89.9},{"x":105.1,"y":89.9},{"x":99.9,"y":87.4},{"x":102.9,"y":85.9},{"x":104.4,"y":84.4},{"x":95.7,"y":83.6},{"x":96.7,"y":83},{"x":100.2,"y":81.1},{"x":105.9,"y":79.4},{"x":107.4,"y":81.1},{"x":109.2,"y":83.2},{"x":110.4,"y":81.1},{"x":111.5,"y":83.6},{"x":112.2,"y":84.9},{"x":113.4,"y":83.2},{"x":114.5,"y":82.8},{"x":115.2,"y":81.9},{"x":116.4,"y":80.2},{"x":117.5,"y":82.3},{"x":119,"y":83.2},{"x":117.1,"y":84.9},{"x":119,"y":85.3},{"x":120.5,"y":87},{"x":121.2,"y":86.5},{"x":122.7,"y":86.1},{"x":123.9,"y":87.4},{"x":125,"y":86.5},{"x":123.5,"y":89},{"x":125,"y":90.7},{"x":126.9,"y":89},{"x":127.6,"y":87.8},{"x":128,"y":90.7},{"x":129.1,"y":91.6},{"x":130.2,"y":92.4},{"x":130.4,"y":89},{"x":132.9,"y":89.5},{"x":132.5,"y":92},{"x":135.1,"y":92.4},{"x":137.7,"y":90.9},{"x":136.8,"y":89.3},{"x":136.6,"y":86.9},{"x":138.1,"y":89},{"x":140.4,"y":89.9},{"x":142.4,"y":89.5},{"x":131,"y":86.1},{"x":132.1,"y":84.9},{"x":129.9,"y":85.7},{"x":129.5,"y":83.6},{"x":131.4,"y":83.6},{"x":133.2,"y":84},{"x":136.4,"y":83.2},{"x":132.9,"y":82.8},{"x":127.2,"y":83.2},{"x":126.1,"y":82.3},{"x":124.2,"y":81.5},{"x":123.1,"y":82.8},{"x":125,"y":80.6},{"x":124.2,"y":79.4},{"x":123.5,"y":78.5},{"x":125.4,"y":78.5},{"x":126.5,"y":77.9},{"x":122,"y":77.9},{"x":120.5,"y":77.5},{"x":130.4,"y":78.1},{"x":123.5,"y":76},{"x":121.2,"y":75.8},{"x":126.9,"y":76.3},{"x":117.8,"y":82.3},{"x":115.6,"y":75.4},{"x":113.9,"y":77.1},{"x":111.7,"y":78.1},{"x":110.4,"y":77.5},{"x":110.7,"y":76},{"x":111.9,"y":75.2},{"x":110.5,"y":73.5},{"x":110.5,"y":72},{"x":108.3,"y":76.7},{"x":107,"y":77.1},{"x":102.9,"y":75.2},{"x":97.6,"y":72.9},{"x":98.5,"y":72.9},{"x":119.7,"y":88.2},{"x":119.4,"y":96.4},{"x":119.7,"y":94.9},{"x":125.9,"y":95.4},{"x":127,"y":94.3},{"x":127.2,"y":96.6},{"x":130.4,"y":97},{"x":131.7,"y":97.9},{"x":132.8,"y":95.3},{"x":134.3,"y":95.6},{"x":136.2,"y":94.9},{"x":138.1,"y":94.9},{"x":135.5,"y":93.2},{"x":132.1,"y":92.8},{"x":140,"y":92},{"x":141.1,"y":91.1}
    ],
    "green": [
      {"x":138.3,"y":59.7},{"x":139,"y":58.8},{"x":140.5,"y":59.9},{"x":141.5,"y":58.6},{"x":139.2,"y":58},{"x":138.5,"y":57.1},
      {"x":131.9,"y":55.8},{"x":134.4,"y":54},{"x":132.8,"y":52.7},{"x":136.8,"y":55},{"x":138.1,"y":55.3},{"x":139.2,"y":53.8},{"x":140.5,"y":53.8},{"x":138.7,"y":51.5},{"x":140.4,"y":50.4},{"x":135.7,"y":50.4},{"x":131.9,"y":47.1},{"x":137.4,"y":46.7},{"x":122.5,"y":46.2},{"x":130.2,"y":45.2},{"x":131,"y":44.8},{"x":139,"y":44.8},{"x":148.2,"y":44.3},{"x":136.4,"y":43.1},{"x":128.5,"y":41.4},{"x":130.8,"y":40.2},{"x":136.6,"y":40.2},{"x":117.1,"y":38.9},{"x":134,"y":38.7},{"x":138.7,"y":38.5},{"x":146,"y":38.5},{"x":129.7,"y":38.3},{"x":109.8,"y":36},{"x":123.7,"y":36.8},{"x":124.4,"y":36.2},{"x":130.2,"y":36.6},{"x":119.2,"y":35.3},{"x":127.2,"y":35.1},{"x":128.3,"y":33.9},{"x":137.3,"y":36.2},{"x":136.2,"y":34.1},{"x":144.1,"y":34.7},{"x":117.5,"y":32},{"x":118.6,"y":31.1},{"x":119.7,"y":32},{"x":120.5,"y":31.1},{"x":124.4,"y":30.9},{"x":128.5,"y":31.8},{"x":132.5,"y":32.4},{"x":131.7,"y":30.7},{"x":137,"y":30.7},{"x":146.3,"y":32.4},{"x":103.2,"y":30.7},{"x":112.6,"y":29.2},{"x":116.4,"y":29},{"x":126.7,"y":30.1},{"x":125.2,"y":28.2},{"x":130.2,"y":29.2},{"x":132.5,"y":28.2},{"x":133.8,"y":28.2},{"x":137.3,"y":28.8},{"x":137,"y":27.8},{"x":134.9,"y":26.5},{"x":128.7,"y":26.5},{"x":139.4,"y":26.5},{"x":148.2,"y":26.7},{"x":109,"y":25.5},{"x":117.5,"y":25.5},{"x":125.4,"y":25.7},{"x":136.4,"y":24.4},{"x":137.7,"y":23.8},{"x":104,"y":21.7},{"x":109.4,"y":22.3},{"x":93.9,"y":20.6},{"x":120.5,"y":21.3},{"x":123.3,"y":21.9},{"x":123.5,"y":20.6},{"x":127.2,"y":22.3},{"x":128.2,"y":21.5},{"x":129.1,"y":20.4},{"x":126.1,"y":20},{"x":105.7,"y":19.6},{"x":116.7,"y":19.6},{"x":119.7,"y":19.2},{"x":116.7,"y":17.7},{"x":118.2,"y":17.5},{"x":123.7,"y":17.3},{"x":128,"y":17.7},{"x":133,"y":18.7},{"x":137.3,"y":17.3},{"x":138.7,"y":17},{"x":141.8,"y":17.3},{"x":119.9,"y":15.8},{"x":123.5,"y":15.6},{"x":138.3,"y":15},{"x":110.9,"y":15},{"x":112.6,"y":13.7},{"x":135.3,"y":14.1},{"x":129.1,"y":12.7},{"x":129.3,"y":11.2},{"x":132.1,"y":11.2},{"x":132.7,"y":9.9},{"x":133.6,"y":8.3},{"x":124.6,"y":7.6},{"x":108.1,"y":7.2},{"x":161.2,"y":29.8}
    ],
    "purple": [
      {"x":132.9,"y":140.8},{"x":132.6,"y":127},{"x":136.4,"y":126.5},{"x":129.6,"y":122.4},{"x":138,"y":119.8},{"x":128.3,"y":116.3},{"x":139.5,"y":109.7},{"x":132.9,"y":109},
      {"x":78.5,"y":22.2},{"x":75.9,"y":17.5},{"x":102.1,"y":16.6},{"x":142.4,"y":28.2},{"x":138.1,"y":25.9},{"x":135.8,"y":22.5},{"x":135.8,"y":21},{"x":140,"y":9.7}
    ],
    "spe": [{"x":37.2,"y":52.1},{"x":37.4,"y":50.9},{"x":37.6,"y":49.6}],
    "genes": [
      {"x":134.3,"y":146.8,"label":"ddc1Δ"},
      {"x":120.4,"y":131.4,"label":"rad17Δ"},
      {"x":150.4,"y":128.6,"label":"rad24Δ"},
      {"x":117.7,"y":122.2,"label":"upf3Δ"},
      {"x":150.2,"y":118.3,"label":"exo1Δ"},
      {"x":117.2,"y":112.8,"label":"upf1Δ"},
      {"x":150.2,"y":106.3,"label":"rad9Δ"},
      {"x":123.8,"y":103.6,"label":"upf2Δ"},
      {"x":45.7,"y":58.9,"label":"spe1Δ"},
      {"x":51.6,"y":51.1,"label":"spe3Δ"},
      {"x":45.5,"y":43.2,"label":"spe2Δ"},
      {"x":84.6,"y":27.6,"label":"mre11Δ"},
      {"x":78.9,"y":12,"label":"rad50Δ"},
      {"x":106.5,"y":11.5,"label":"xrs2Δ"},
      {"x":144.6,"y":33.4,"label":"tel1Δ"},
      {"x":123.9,"y":25.5,"label":"est3Δ"},
      {"x":149.1,"y":24.1,"label":"est1Δ"},
      {"x":138.7,"y":15.5,"label":"yku80Δ"},
      {"x":142.2,"y":3.4,"label":"yku70Δ"}
    ],
    "temp": [{"x":-2,"y":173,"label":"27°C"}],
    "titleplain": [{"x":47.4,"y":-34.7,"label":"Fitness"}],
    "titleitalic": [{"x":80.5,"y":-34.7,"label":"CDC13"}],
    "titlesup": [{"x":111.3,"y":-31.3,"label":"+"}],
    "ytitleplain": [{"x":-25.8,"y":49.7,"label":"Fitness"}],
    "ytitleitalic": [{"x":-25.8,"y":86.7,"label":"cdc13-1"}]
  },
  "encoding": {
    "x": {
      "field": "x",
      "type": "quantitative",
      "scale": {"domain": [-7.2, 187.2], "nice": false, "zero": false},
      "axis": {
        "values": [0, 50, 100, 150],
        "title": null,
        "grid": false,
        "domain": false,
        "tickSize": 31,
        "tickWidth": 3,
        "tickColor": "#000000",
        "labelFont": "Liberation Sans",
        "labelFontSize": 64,
        "labelColor": "#000000",
        "labelPadding": 77,
        "labelBaseline": "alphabetic",
        "labelAlign": "center",
        "labelFlush": false,
        "labelOverlap": false
      }
    },
    "y": {
      "field": "y",
      "type": "quantitative",
      "scale": {"domain": [-7.2, 187.2], "nice": false, "zero": false},
      "axis": {
        "values": [0, 50, 100, 150],
        "title": null,
        "grid": false,
        "domain": false,
        "tickSize": 31,
        "tickWidth": 3,
        "tickColor": "#000000",
        "labelFont": "Liberation Sans",
        "labelFontSize": 64,
        "labelColor": "#000000",
        "labelAngle": 270,
        "labelAlign": "center",
        "labelBaseline": "alphabetic",
        "labelPadding": 41,
        "labelFlush": false,
        "labelOverlap": false
      }
    }
  },
  "layer": [
    {"data": {"name": "diag"}, "mark": {"type": "line", "color": "#969696", "strokeWidth": 5, "strokeDash": [17, 25.2, 1, 25.2], "strokeCap": "round", "clip": true}},
    {"data": {"name": "fit"}, "mark": {"type": "line", "color": "#0A9BF0", "strokeWidth": 5, "clip": true}},
    {"data": {"name": "grey"}, "mark": {"type": "circle", "size": 210, "color": "#BEBEBE", "opacity": 1}},
    {"data": {"name": "red"}, "mark": {"type": "circle", "size": 210, "color": "#FF0000", "opacity": 1}},
    {"data": {"name": "green"}, "mark": {"type": "circle", "size": 210, "color": "#00FF00", "opacity": 1}},
    {"data": {"name": "purple"}, "mark": {"type": "circle", "size": 530, "color": "#A020F0", "opacity": 1}},
    {"data": {"name": "spe"}, "mark": {"type": "circle", "size": 530, "color": "#0000FF", "opacity": 1}},
    {"data": {"name": "genes"}, "mark": {"type": "text", "font": "Liberation Sans", "fontStyle": "italic", "fontSize": 62, "color": "#000000", "align": "center", "baseline": "middle"}, "encoding": {"text": {"field": "label"}}},
    {"data": {"name": "temp"}, "mark": {"type": "text", "font": "Open Sans", "fontSize": 83, "color": "#000000", "align": "left", "baseline": "alphabetic"}, "encoding": {"text": {"field": "label"}}},
    {"data": {"name": "titleplain"}, "mark": {"type": "text", "font": "Liberation Sans", "fontSize": 84, "color": "#000000", "align": "left", "baseline": "alphabetic"}, "encoding": {"text": {"field": "label"}}},
    {"data": {"name": "titleitalic"}, "mark": {"type": "text", "font": "Liberation Sans", "fontStyle": "italic", "fontSize": 84, "color": "#000000", "align": "left", "baseline": "alphabetic"}, "encoding": {"text": {"field": "label"}}},
    {"data": {"name": "titlesup"}, "mark": {"type": "text", "font": "Liberation Sans", "fontSize": 55, "color": "#000000", "align": "left", "baseline": "alphabetic"}, "encoding": {"text": {"field": "label"}}},
    {"data": {"name": "ytitleplain"}, "mark": {"type": "text", "font": "Liberation Sans", "fontSize": 84, "color": "#000000", "align": "left", "baseline": "alphabetic", "angle": 270}, "encoding": {"text": {"field": "label"}}},
    {"data": {"name": "ytitleitalic"}, "mark": {"type": "text", "font": "Liberation Sans", "fontStyle": "italic", "fontSize": 84, "color": "#000000", "align": "left", "baseline": "alphabetic", "angle": 270}, "encoding": {"text": {"field": "label"}}}
  ]
}
